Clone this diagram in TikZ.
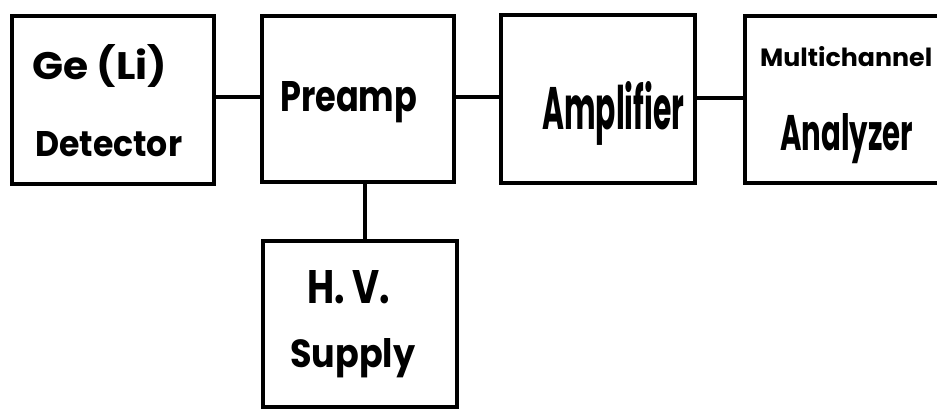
\documentclass[tikz,border=0pt]{standalone}
\usepackage{fontspec}
\setmainfont{Poppins}
\usepackage{graphicx}
\newcommand{\hw}[3]{\resizebox{#1pt}{#2pt}{\bfseries #3}}
\begin{document}
\begin{tikzpicture}[x=1pt,y=-1pt,
  box/.style={draw=black,line width=3.8pt,inner sep=0pt,minimum width=#1},
  lbl/.style={anchor=base west,inner sep=0pt},
  wire/.style={line width=3.8pt}]
\useasboundingbox (0,0) rectangle (937,409);
\node[box=202pt,minimum height=168pt] (det) at (113,100) {};
\node[box=192pt,minimum height=166pt] (pre) at (358,99) {};
\node[box=194pt,minimum height=168pt] (amp) at (598,99) {};
\node[box=215pt,minimum height=167pt] (mca) at (852.5,99.5) {};
\node[box=194pt,minimum height=166pt] (hv) at (360,324) {};
\draw[wire] (det.east |- 0,97) -- (pre.west |- 0,97);
\draw[wire] (pre.east |- 0,97) -- (amp.west |- 0,97);
\draw[wire] (amp.east |- 0,98) -- (mca.west |- 0,98);
\draw[wire] (pre.south -| 365,0) -- (hv.north -| 365,0);
\node[lbl] (t1) at (32,80) {\hw{135}{35}{Ge (Li)}};
\node[lbl] (t2) at (35,157) {\hw{147}{25}{Detector}};
\node[lbl] (t3) at (280,112) {\hw{137}{30}{Preamp}};
\node[lbl] (t4) at (542,130) {\hw{142}{48}{Amplifier}};
\node[lbl] (t5) at (760,67) {\hw{172}{20}{Multichannel}};
\node[lbl] (t6) at (780,150) {\hw{133}{37}{Analyzer}};
\node[lbl] (t7) at (307,303) {\hw{83}{33}{H. V.}};
\node[lbl] (t8) at (290,367) {\hw{125}{29}{Supply}};
\end{tikzpicture}
\end{document}
